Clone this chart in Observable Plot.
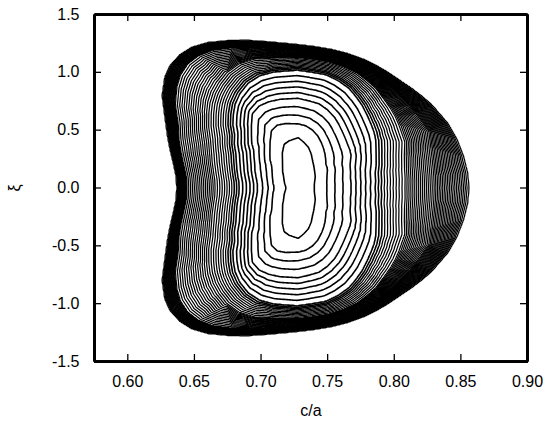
<!DOCTYPE html>
<html><head><meta charset="utf-8">
<script src="https://cdn.jsdelivr.net/npm/d3@7"></script>
<script src="https://cdn.jsdelivr.net/npm/@observablehq/plot@0.6"></script>
<style>body{margin:0;background:#fff}</style>
</head><body><div id="chart"></div>
<script>
// Axis ticks
const xTicks = [0.60, 0.65, 0.70, 0.75, 0.80, 0.85, 0.90];
const yTicks = [-1.5, -1.0, -0.5, 0.0, 0.5, 1.0, 1.5];

// Centre of the nested contours and the short vertical valley floor inside the innermost "D"
const center = [0.7285, 0.0];
const valleyY = [-0.30, -0.15, 0.0, 0.15, 0.30];

// Outermost contour, read along rays from the centre (counter-clockwise from the right)
const outerX = [0.856,0.855,0.852,0.847,0.840,0.828,0.821,0.813,0.804,0.795,0.786,0.777,0.765,0.753,0.740,0.727,0.705,0.690,0.675,0.660,0.648,0.639,0.632,0.628,0.626,0.628,0.630,0.632,0.6345,0.6365,0.637,
                0.6365,0.6345,0.632,0.630,0.628,0.626,0.628,0.632,0.639,0.648,0.660,0.675,0.690,0.705,0.727,0.740,0.753,0.765,0.777,0.786,0.795,0.804,0.813,0.821,0.828,0.840,0.847,0.852,0.855];
const outerY = [0,0.13,0.27,0.42,0.56,0.72,0.79,0.86,0.93,1.00,1.06,1.11,1.16,1.195,1.22,1.238,1.262,1.274,1.272,1.255,1.215,1.15,1.06,0.96,0.80,0.62,0.45,0.33,0.21,0.10,0,
                -0.10,-0.21,-0.33,-0.45,-0.62,-0.80,-0.96,-1.06,-1.15,-1.215,-1.255,-1.272,-1.274,-1.262,-1.238,-1.22,-1.195,-1.16,-1.11,-1.06,-1.00,-0.93,-0.86,-0.79,-0.72,-0.56,-0.42,-0.27,-0.13];

// Relative position (centre = 0, outer contour = 1) of selected contours on each ray
const frac1  = [.092,.093,.095,.100,.108,.125,.134,.144,.158,.174,.193,.214,.255,.295,.325,.354,.325,.297,.239,.185,.157,.141,.130,.120,.115,.115,.114,.113,.112,.111,.110,
                .111,.112,.113,.114,.115,.115,.120,.130,.141,.157,.185,.239,.297,.325,.354,.325,.295,.255,.214,.193,.174,.158,.144,.134,.125,.108,.100,.095,.093];
const frac2  = [.165,.167,.170,.178,.190,.217,.229,.241,.268,.296,.324,.352,.390,.421,.443,.450,.444,.429,.391,.320,.274,.247,.227,.208,.200,.202,.205,.207,.210,.209,.208,
                .209,.210,.207,.205,.202,.200,.208,.227,.247,.274,.320,.391,.429,.444,.450,.443,.421,.390,.352,.324,.296,.268,.241,.229,.217,.190,.178,.170,.167];
const frac5  = [.307,.310,.314,.328,.345,.394,.415,.435,.462,.490,.521,.552,.585,.611,.620,.628,.609,.587,.559,.513,.446,.401,.370,.340,.330,.332,.337,.338,.340,.341,.343,
                .341,.340,.338,.337,.332,.330,.340,.370,.401,.446,.513,.559,.587,.609,.628,.620,.611,.585,.552,.521,.490,.462,.435,.415,.394,.345,.328,.314,.310];
const frac10 = [.449,.456,.464,.490,.520,.580,.611,.642,.679,.715,.746,.777,.803,.822,.823,.825,.797,.764,.714,.650,.597,.552,.515,.482,.475,.472,.478,.484,.490,.491,.492,
                .491,.490,.484,.478,.472,.475,.482,.515,.552,.597,.650,.714,.764,.797,.825,.823,.822,.803,.777,.746,.715,.679,.642,.611,.580,.520,.490,.464,.456];
const frac20 = [.624,.630,.642,.668,.713,.755,.782,.809,.837,.865,.881,.897,.906,.913,.913,.913,.890,.875,.844,.794,.749,.719,.693,.674,.662,.661,.667,.676,.684,.688,.689,
                .688,.684,.676,.667,.661,.662,.674,.693,.719,.749,.794,.844,.875,.890,.913,.913,.913,.906,.897,.881,.865,.837,.809,.782,.755,.713,.668,.642,.630];
const frac35 = [.796,.800,.812,.835,.874,.886,.898,.910,.925,.940,.948,.955,.958,.959,.960,.961,.957,.955,.953,.949,.941,.934,.923,.913,.907,.904,.915,.918,.920,.920,.920,
                .920,.920,.918,.915,.904,.907,.913,.923,.934,.941,.949,.953,.955,.957,.961,.960,.959,.958,.955,.948,.940,.925,.910,.898,.886,.874,.835,.812,.800];

const keyLevels = [1, 2, 5, 10, 20, 35];
const keyFractions = [frac1, frac2, frac5, frac10, frac20, frac35];
const outerLevel = 55;
const innerLevels = d3.range(1, 13);
const outerLevels = d3.range(13, outerLevel + 1);

// Surrounding points outside the outer contour (above every level)
const ringX = [0.55, 0.64, 0.7375, 0.84, 0.93, 0.93, 0.93, 0.93, 0.93, 0.84, 0.7375, 0.64, 0.55, 0.55, 0.55, 0.55];
const ringY = [1.7, 1.7, 1.7, 1.7, 1.7, 0.8, 0, -0.8, -1.7, -1.7, -1.7, -1.7, -1.7, -0.8, 0, 0.8];
const ringLevel = 70;

// Build the sampled field
const pts = valleyY.map(vy => ({x: center[0], y: vy, v: 0}));
outerX.forEach((ox, k) => {
  const oy = outerY[k];
  keyFractions.forEach((fr, j) => {
    const f = fr[k];
    pts.push({x: center[0] + f * (ox - center[0]), y: center[1] + f * (oy - center[1]), v: keyLevels[j]});
  });
  pts.push({x: ox, y: oy, v: outerLevel});
});
ringX.forEach((rx, k) => pts.push({x: rx, y: ringY[k], v: ringLevel}));

const W = 547, H = 421, ML = 94, MR = 20, MT = 14, MB = 60;
const FW = W - ML - MR, FH = H - MT - MB;

const contourOpts = {x: "x", y: "y", value: "v", interpolate: "barycentric", pixelSize: 1, stroke: "black", fill: "none"};

const chart = Plot.plot({
  width: W, height: H,
  marginLeft: ML, marginRight: MR, marginTop: MT, marginBottom: MB,
  style: {fontFamily: "Liberation Sans, Arial, Helvetica, sans-serif", fontSize: "16px", color: "black", background: "white"},
  x: {domain: [0.575, 0.90]},
  y: {domain: [-1.5, 1.5]},
  marks: [
    Plot.contour(pts, {...contourOpts, thresholds: innerLevels.map(l => l - 0.02), strokeWidth: 1.6}),
    Plot.contour(pts, {...contourOpts, thresholds: outerLevels.map(l => l - 0.02), strokeWidth: 1.25}),
    Plot.frame({stroke: "black", strokeWidth: 1.3}),
    Plot.tickX(xTicks, {x: d => d, insetTop: FH - 7, stroke: "black", strokeWidth: 1.3}),
    Plot.tickX(xTicks, {x: d => d, insetBottom: FH - 7, stroke: "black", strokeWidth: 1.3}),
    Plot.tickY(yTicks, {y: d => d, insetRight: FW - 7, stroke: "black", strokeWidth: 1.3}),
    Plot.tickY(yTicks, {y: d => d, insetLeft: FW - 7, stroke: "black", strokeWidth: 1.3}),
    Plot.axisX({ticks: xTicks, tickSize: 0, tickPadding: 14, tickFormat: d => d.toFixed(2), label: null, fontSize: 16}),
    Plot.axisY({ticks: yTicks, tickSize: 0, tickPadding: 15, tickFormat: d => d.toFixed(1), label: null, fontSize: 16}),
    Plot.text(["c/a"], {frameAnchor: "bottom", dy: 49, textAnchor: "middle", lineAnchor: "middle", fontSize: 16}),
    Plot.text(["ξ"], {frameAnchor: "left", dx: -80, rotate: -90, textAnchor: "middle", lineAnchor: "middle", fontSize: 16})
  ]
});
document.getElementById("chart").appendChild(chart);
</script>
</body></html>
